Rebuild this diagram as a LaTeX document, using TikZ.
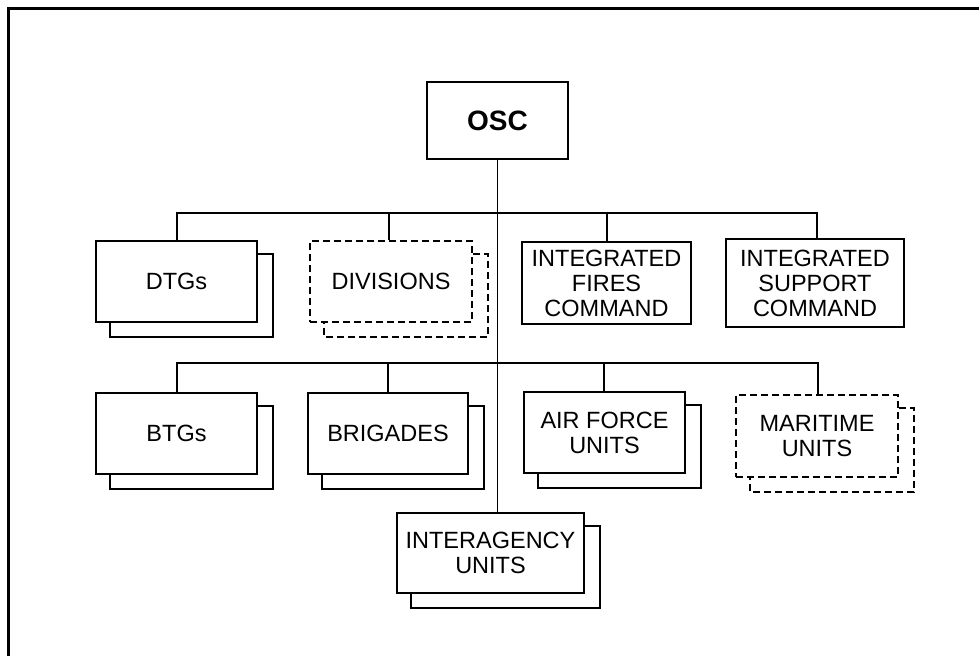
\documentclass[tikz,border=0pt]{standalone}
\usepackage{fontspec}
\setmainfont{Liberation Sans}
\usetikzlibrary{positioning}

\tikzset{
	unit/.style={draw, line width=2pt, fill=white, inner sep=0pt, align=center,
		font=\fontsize{23.5}{25}\selectfont},
	dashunit/.style={unit, dash pattern=on 7pt off 4pt},
	link/.style={line width=1.8pt}
}

\begin{document}
\begin{tikzpicture}[x=1pt, y=-1pt]
		\useasboundingbox (0,0) rectangle (979,656);
		%--frame
		\draw[line width=3.5pt] (8.5,656) |- (979,8.5);
		
		%--top
		\node[unit, minimum width=141pt, minimum height=77pt,
			font=\fontsize{28}{30}\selectfont\bfseries] (osc) at (497.5,120.5) {OSC};
		
		%--first row
		\node[unit, minimum width=161pt, minimum height=81pt] (dtg) at (176.5,281.5) {DTGs};
		\node[dashunit, minimum width=162pt, minimum height=81pt] (div) at (391,281.5) {DIVISIONS};
		\node[unit, minimum width=169pt, minimum height=82pt] (ifc) at (606.5,283) {INTEGRATED\\FIRES\\COMMAND};
		\node[unit, minimum width=178pt, minimum height=88pt] (isc) at (815,283) {INTEGRATED\\SUPPORT\\COMMAND};
		
		%--second row
		\node[unit, minimum width=161pt, minimum height=81pt] (btg) at (176.5,433.5) {BTGs};
		\node[unit, minimum width=160pt, minimum height=81pt] (brig) at (388,433.5) {BRIGADES};
		\node[unit, minimum width=161pt, minimum height=81pt] (af) at (604.5,432.5) {AIR FORCE\\UNITS};
		\node[dashunit, minimum width=162pt, minimum height=82pt] (mar) at (817,436) {MARITIME\\UNITS};
		\node[unit, minimum width=187pt, minimum height=80pt] (ia) at (490.5,553) {INTERAGENCY\\UNITS};
		
		%--stacked copies behind
		\foreach \n in {dtg,btg,brig,af,ia}
			\draw[line width=2pt] ([shift={(0,14)}]\n.north east) -| ([shift={(15,14)}]\n.south east) -| ([shift={(15,0)}]\n.south west);
		\foreach \n in {div,mar}
			\draw[line width=2pt, dash pattern=on 7pt off 4pt] ([shift={(0,14)}]\n.north east) -| ([shift={(15,14)}]\n.south east) -| ([shift={(15,0)}]\n.south west);
		
		%--lines
		\coordinate (bus1) at (497,213);
		\coordinate (bus2) at (497,363);
		\draw[link] (osc.south) -- (osc.south |- ia.north);
		\foreach \n/\x in {dtg/177,div/389,ifc/607,isc/817}
			\draw[link] (\x,0 |- \n.north) |- (bus1);
		\foreach \n/\x in {btg/177,brig/388,af/604,mar/818}
			\draw[link] (\x,0 |- \n.north) |- (bus2);
	\end{tikzpicture}
\end{document}
